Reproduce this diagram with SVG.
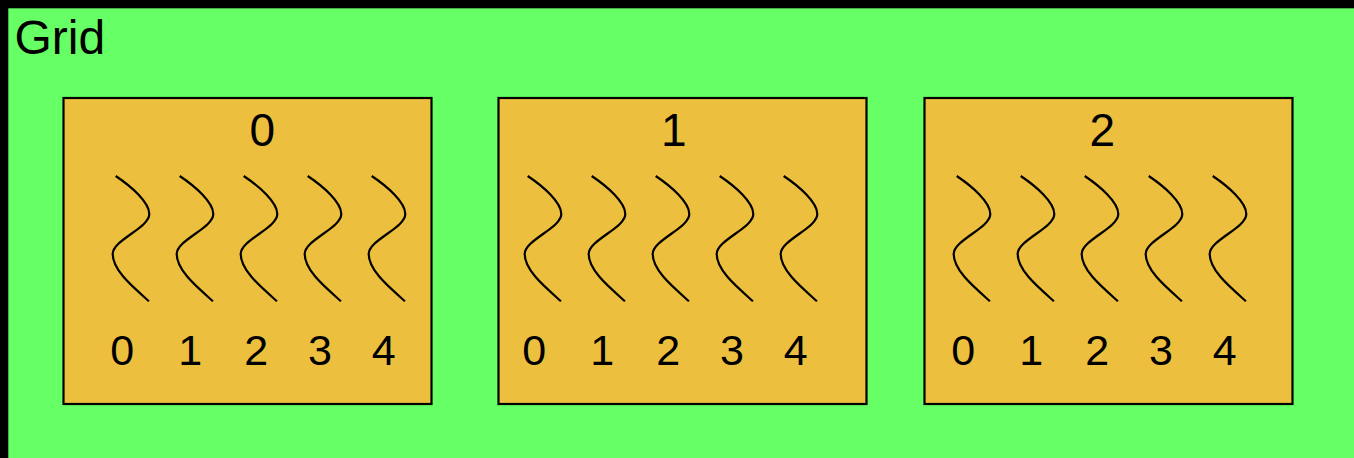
<svg xmlns="http://www.w3.org/2000/svg" xmlns:xlink="http://www.w3.org/1999/xlink" width="1354" height="458" viewBox="0 0 1354 458">
<style>
text{font-family:"Liberation Sans",Arial,sans-serif;fill:#000}
.box{fill:#ecbf3e;stroke:#000;stroke-width:2.2}
.wave{fill:none;stroke:#000;stroke-width:2.2}
.t{font-size:46px;text-anchor:middle}
.d{font-size:43px;text-anchor:middle}
</style>
<defs>
<path id="wave" class="wave" d="M0,0 C15,10 33.6,26 33.6,38 C33.6,52 -3,64 -3,78 C-3,94 16,110 33.3,125.3"/>
</defs>
<g id="grid">
<rect x="0" y="0" width="1354" height="458" fill="#000"/>
<rect x="8.3" y="8.3" width="1346" height="450" fill="#66ff66"/>
<text x="14.5" y="53.5" style="font-size:48px">Grid</text>
</g>
<g id="block0">
<rect class="box" x="63.5" y="98" width="368" height="306"/>
<text class="t" x="262.3" y="145.5">0</text>
<use xlink:href="#wave" x="115.7" y="176"/>
<use xlink:href="#wave" x="179.7" y="176"/>
<use xlink:href="#wave" x="243.7" y="176"/>
<use xlink:href="#wave" x="307.7" y="176"/>
<use xlink:href="#wave" x="371.7" y="176"/>
<text class="d" x="122.2" y="365.3">0</text>
<text class="d" x="190.2" y="365.3">1</text>
<text class="d" x="256.2" y="365.3">2</text>
<text class="d" x="320" y="365.3">3</text>
<text class="d" x="383.7" y="365.3">4</text>
</g>
<g id="block1">
<rect class="box" x="498.5" y="98" width="368" height="306"/>
<text class="t" x="673.7" y="145.5">1</text>
<use xlink:href="#wave" x="527.7" y="176"/>
<use xlink:href="#wave" x="591.7" y="176"/>
<use xlink:href="#wave" x="655.7" y="176"/>
<use xlink:href="#wave" x="719.7" y="176"/>
<use xlink:href="#wave" x="783.7" y="176"/>
<text class="d" x="534.2" y="365.3">0</text>
<text class="d" x="602.2" y="365.3">1</text>
<text class="d" x="668.2" y="365.3">2</text>
<text class="d" x="732" y="365.3">3</text>
<text class="d" x="795.7" y="365.3">4</text>
</g>
<g id="block2">
<rect class="box" x="924.5" y="98" width="368" height="306"/>
<text class="t" x="1102.2" y="145.5">2</text>
<use xlink:href="#wave" x="956.7" y="176"/>
<use xlink:href="#wave" x="1020.7" y="176"/>
<use xlink:href="#wave" x="1084.7" y="176"/>
<use xlink:href="#wave" x="1148.7" y="176"/>
<use xlink:href="#wave" x="1212.7" y="176"/>
<text class="d" x="963.2" y="365.3">0</text>
<text class="d" x="1031.2" y="365.3">1</text>
<text class="d" x="1097.2" y="365.3">2</text>
<text class="d" x="1161" y="365.3">3</text>
<text class="d" x="1224.7" y="365.3">4</text>
</g>
<g id="connectors"></g>
</svg>
